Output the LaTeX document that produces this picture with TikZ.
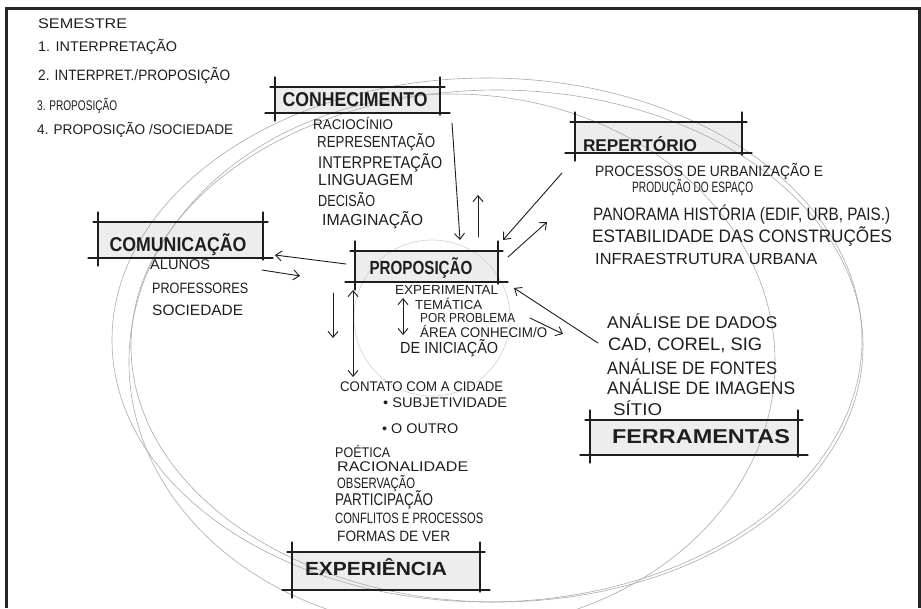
\documentclass[tikz,border=0pt]{standalone}
\usepackage{fontspec}
\setmainfont{Liberation Sans}
\usetikzlibrary{arrows.meta}
\newsavebox\fitbox
\definecolor{ink}{HTML}{1E1E1E}
\definecolor{pencil}{HTML}{ABABAB}
\newcommand\fs[1]{\fontsize{#1}{#1}\selectfont}
% text stretched to a given width (measured inside the node)
\newcommand\fitx[2]{%
  \sbox\fitbox{#2}%
  \pgfmathsetmacro\fitsx{#1/\the\wd\fitbox}%
  \addfontfeature{FakeStretch=\fitsx}#2}
% hand-written line: name, x(left), y(center), width, size, text
\newcommand\hl[6]{%
  \node[hand] (#1) at (#2,#3) {\fs{#5}\fitx{#4}{#6}};}
% header text: name, x(center), y(center), width, size, text
\newcommand\hh[6]{%
  \node[hd] (#1) at (#2,#3) {\fs{#5}\bfseries\fitx{#4}{#6}};}
\newcommand\hframe[4]{%
  \draw[frame] ({#1-5},#2) -- ({#3+5},#2);
  \draw[frame] ({#1-10},#4) -- ({#3+10},#4);
  \draw[frame] (#1,{#2-10}) -- (#1,{#4+8});
  \draw[frame] (#3,{#2-10}) -- (#3,{#4+2});
}
\tikzset{
  hand/.style={anchor=west, inner sep=0pt, text=ink},
  hd/.style={inner sep=0pt, text=ink},
  boxfill/.style={fill=gray!14},
  frame/.style={draw=ink, line width=1.1pt, line cap=round},
  arr/.style={draw=ink, line width=0.9pt, line cap=round, -{Straight Barb[length=6pt,width=10pt]}},
  darr/.style={draw=ink, line width=0.9pt, line cap=round, {Straight Barb[length=6pt,width=10pt]}-{Straight Barb[length=6pt,width=10pt]}},
  penc/.style={draw=pencil, line width=0.6pt},
}
\begin{document}
\begin{tikzpicture}[x=1pt,y=-1pt]
\useasboundingbox (0,0) rectangle (921,608);
\fill[white] (0,0) rectangle (921,608);

% header fills
\fill[boxfill] (275,87) rectangle (440,113);
\fill[boxfill] (575,122) rectangle (742,153);
\fill[boxfill] (98,222) rectangle (263,258);
\fill[boxfill] (355,251) rectangle (498,282);
\fill[boxfill] (590,420) rectangle (798,455);
\fill[boxfill] (292,552) rectangle (480,590);

% pencil circles
\draw[penc] (487,340) ellipse [x radius=375, y radius=262];
\draw[penc] (497,346) ellipse [x radius=366, y radius=256];
\draw[penc] (452,362) ellipse [x radius=323, y radius=268];
\draw[penc, draw=pencil!55] (432,318) circle [radius=78];

% frame border
\draw[line width=3pt, draw=black!85] (6,608) -- (6,8) -- (919,8) -- (919,608);

% semestre
\hl{s0}{38}{24}{89}{14}{SEMESTRE}
\hl{s1}{38}{47}{139}{14}{1. INTERPRETAÇÃO}
\hl{s2}{38}{76}{192}{15}{2. INTERPRET./PROPOSIÇÃO}
\hl{s3}{37}{106}{80}{14}{3. PROPOSIÇÃO}
\hl{s4}{37}{130}{196}{14}{4. PROPOSIÇÃO /SOCIEDADE}

% headers
\hframe{275}{87}{440}{113}
\hh{conh}{355}{100}{145}{20}{CONHECIMENTO}
\hframe{575}{122}{742}{153}
\hh{rep}{640}{144}{114}{17}{REPERTÓRIO}
\hframe{98}{222}{263}{258}
\hh{com}{178}{245}{137}{20}{COMUNICAÇÃO}
\hframe{355}{251}{498}{282}
\hh{prop}{421}{268}{103}{19}{PROPOSIÇÃO}
\hframe{590}{420}{798}{455}
\hh{ferr}{701}{437}{178}{20}{FERRAMENTAS}
\hframe{292}{552}{480}{590}
\hh{exp}{376}{567}{142}{19}{EXPERIÊNCIA}

% conhecimento list
\hl{c1}{313}{123}{80}{14}{RACIOCÍNIO}
\hl{c2}{317}{142}{118}{16}{REPRESENTAÇÃO}
\hl{c3}{318}{163}{124}{17}{INTERPRETAÇÃO}
\hl{c4}{318}{180}{95}{16}{LINGUAGEM}
\hl{c5}{318}{200}{57}{16}{DECISÃO}
\hl{c6}{322}{220}{101}{16}{IMAGINAÇÃO}

% repertorio list
\hl{r1}{595}{172}{228}{15}{PROCESSOS DE URBANIZAÇÃO E}
\hl{r2}{632}{188}{121}{15}{PRODUÇÃO DO ESPAÇO}
\hl{r3}{593}{215}{297}{18}{PANORAMA HISTÓRIA (EDIF, URB, PAIS.)}
\hl{r4}{592}{237}{300}{18}{ESTABILIDADE DAS CONSTRUÇÕES}
\hl{r5}{595}{259}{222}{16}{INFRAESTRUTURA URBANA}

% comunicacao list
\hl{m1}{150}{265}{60}{14}{ALUNOS}
\hl{m2}{152}{288}{96}{15}{PROFESSORES}
\hl{m3}{152}{310}{91}{15}{SOCIEDADE}

% proposicao list
\hl{p1}{395}{290}{103}{13}{EXPERIMENTAL}
\hl{p2}{415}{304}{67}{13}{TEMÁTICA}
\hl{p3}{420}{318}{95}{13}{POR PROBLEMA}
\hl{p4}{420}{331}{127}{14}{ÁREA CONHECIM/O}
\hl{p5}{400}{348}{98}{16}{DE INICIAÇÃO}

% ferramentas list
\hl{t1}{607}{321}{170}{17}{ANÁLISE DE DADOS}
\hl{t2}{608}{345}{154}{18}{CAD, COREL, SIG}
\hl{t3}{607}{367}{170}{18}{ANÁLISE DE FONTES}
\hl{t4}{607}{387}{188}{18}{ANÁLISE DE IMAGENS}
\hl{t5}{613}{408}{49}{17}{SÍTIO}

% experiencia list
\hl{e1}{340}{387}{163}{14}{CONTATO COM A CIDADE}
\hl{e2}{383}{403}{124}{14}{• SUBJETIVIDADE}
\hl{e3}{382}{429}{76}{14}{• O OUTRO}
\hl{e4}{335}{451}{55}{14}{POÉTICA}
\hl{e5}{337}{467}{131}{14}{RACIONALIDADE}
\hl{e6}{337}{483}{78}{15}{OBSERVAÇÃO}
\hl{e7}{335}{500}{98}{17}{PARTICIPAÇÃO}
\hl{e8}{335}{518}{148}{15}{CONFLITOS E PROCESSOS}
\hl{e9}{337}{536}{113}{15}{FORMAS DE VER}

% arrow end points
\coordinate (a1s) at (452,123); \coordinate (a1e) at (460,240);
\coordinate (a2s) at (478,237); \coordinate (a2e) at (478,195);
\coordinate (a3s) at (562,173); \coordinate (a3e) at (503,240);
\coordinate (a4s) at (508,257); \coordinate (a4e) at (547,222);
\coordinate (a5s) at (346,264); \coordinate (a5e) at (275,255);
\coordinate (a6s) at (262,270); \coordinate (a6e) at (300,276);
\coordinate (a7s) at (333,293); \coordinate (a7e) at (333,338);
\coordinate (a8s) at (353,290); \coordinate (a8e) at (353,377);
\coordinate (a9s) at (403,298); \coordinate (a9e) at (403,335);
\coordinate (a10s) at (530,318); \coordinate (a10e) at (563,334);
\coordinate (a11s) at (598,343); \coordinate (a11e) at (514,288);

\draw[arr] (a1s) -- (a1e);
\draw[arr] (a2s) -- (a2e);
\draw[arr] (a3s) -- (a3e);
\draw[arr] (a4s) -- (a4e);
\draw[arr] (a5s) -- (a5e);
\draw[arr] (a6s) -- (a6e);
\draw[arr] (a7s) -- (a7e);
\draw[darr] (a8s) -- (a8e);
\draw[darr] (a9s) -- (a9e);
\draw[arr] (a10s) -- (a10e);
\draw[arr] (a11s) -- (a11e);
\end{tikzpicture}
\end{document}
